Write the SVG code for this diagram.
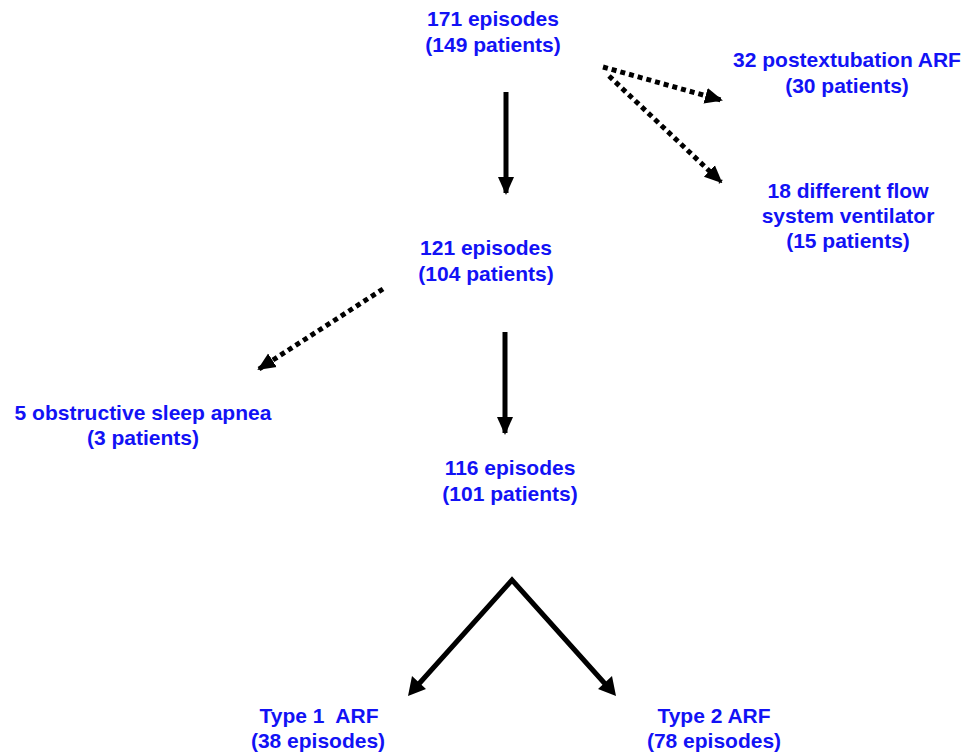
<svg xmlns="http://www.w3.org/2000/svg" width="974" height="752" viewBox="0 0 974 752">
<style>
text{font-family:"Liberation Sans",Arial,Helvetica,sans-serif;font-weight:bold;font-size:21px;fill:#1212f5;text-anchor:middle}
.solid{stroke:#000;stroke-width:5;fill:none}
.dot{stroke:#000;stroke-width:5;fill:none;stroke-dasharray:5 4}
</style>
<defs>
<marker id="ah" markerUnits="userSpaceOnUse" markerWidth="18" markerHeight="18" viewBox="0 0 18 18" refX="16" refY="9" orient="auto">
<path d="M0,1 L18,9 L0,17 Z" fill="#000"/>
</marker>
</defs>
<rect width="974" height="752" fill="#fff"/>
<g id="connectors">
<line class="solid" x1="506" y1="92" x2="506" y2="193" marker-end="url(#ah)"/>
<line class="solid" x1="505" y1="332" x2="505" y2="433" marker-end="url(#ah)"/>
<line class="dot" x1="603" y1="67" x2="721" y2="100" marker-end="url(#ah)"/>
<line class="dot" x1="609" y1="76" x2="721" y2="182" marker-end="url(#ah)"/>
<line class="dot" x1="383" y1="289" x2="259" y2="369" marker-end="url(#ah)"/>
<polyline class="solid" points="417,686 512,580 607,686"/>
<path d="M408,696 L412,676 L426,689 Z M616,696 L598,689 L612,676 Z" fill="#000"/>
</g>
<g id="n1"><text x="493" y="26">171 episodes</text><text x="493" y="52">(149 patients)</text></g>
<g id="n2"><text x="847" y="67">32 postextubation ARF</text><text x="847" y="93">(30 patients)</text></g>
<g id="n3"><text x="848" y="198">18 different flow</text><text x="848" y="223">system ventilator</text><text x="848" y="248">(15 patients)</text></g>
<g id="n4"><text x="486" y="255">121 episodes</text><text x="486" y="281">(104 patients)</text></g>
<g id="n5"><text x="143" y="420">5 obstructive sleep apnea</text><text x="143" y="445">(3 patients)</text></g>
<g id="n6"><text x="510" y="475">116 episodes</text><text x="510" y="501">(101 patients)</text></g>
<g id="n7"><text x="319" y="723" xml:space="preserve">Type 1  ARF</text><text x="318" y="748">(38 episodes)</text></g>
<g id="n8"><text x="714" y="723">Type 2 ARF</text><text x="714" y="748">(78 episodes)</text></g>
</svg>
